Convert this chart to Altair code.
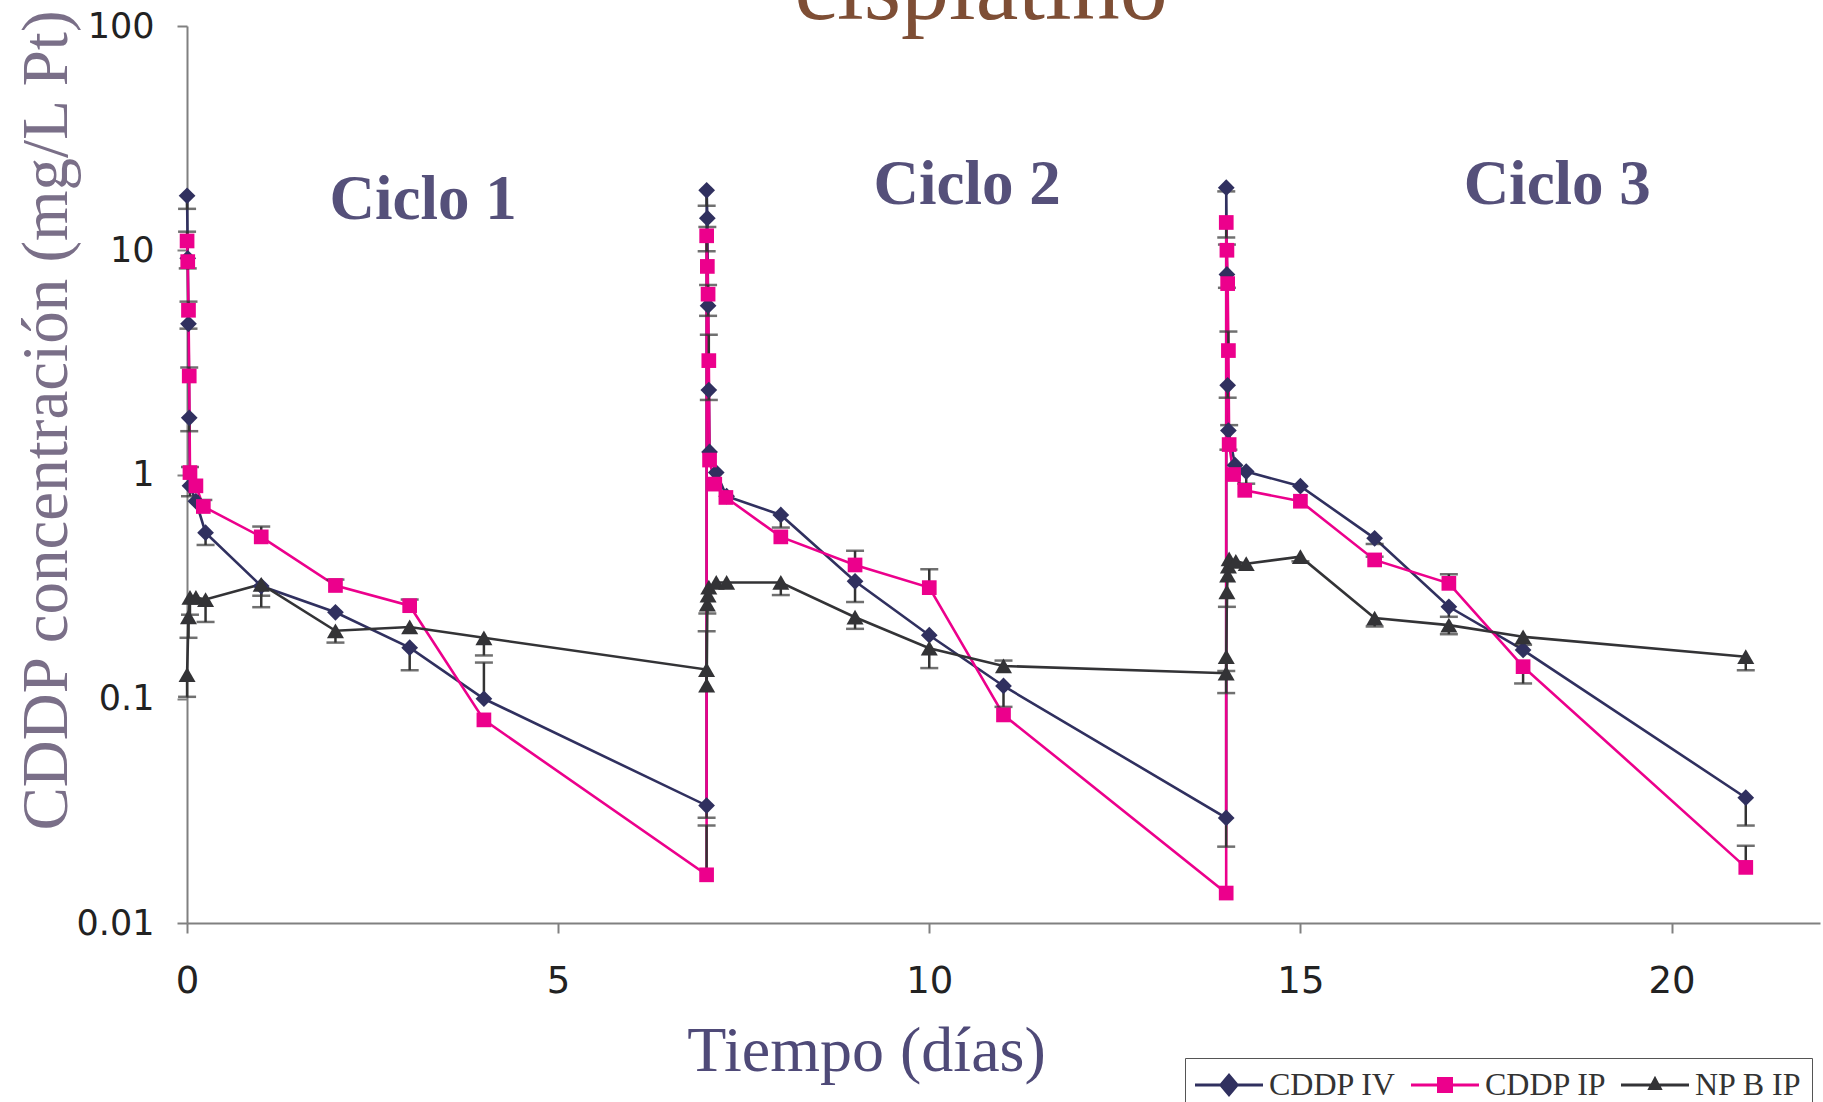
import altair as alt
import pandas as pd

# --- series ---------------------------------------------------------------
SERIES = ["CDDP IV", "CDDP IP", "NP B IP"]
COLORS = ["#30305F", "#EC008C", "#333336"]

# CDDP IV: time (days), concentration (mg/L Pt), error-bar end (None = no bar)
iv_t = [0.001, 0.01, 0.02, 0.03, 0.04, 0.12, 0.25, 1, 2, 3, 4, 7,
        7.001, 7.01, 7.02, 7.03, 7.04, 7.13, 7.27, 8, 9, 10, 11, 14,
        14.001, 14.01, 14.02, 14.03, 14.12, 14.27, 15, 16, 17, 18, 21]
iv_v = [17.5, 9.2, 4.7, 1.79, 0.89, 0.76, 0.55, 0.318, 0.243, 0.169, 0.100, 0.0334,
        18.5, 13.9, 5.66, 2.38, 1.26, 1.02, 0.80, 0.66, 0.334, 0.192, 0.114, 0.0294,
        19.0, 7.8, 2.5, 1.57, 1.10, 1.03, 0.887, 0.519, 0.257, 0.165, 0.0362]
iv_e = [15.3, None, 4.47, 1.56, 0.80, None, 0.485, 0.288, None, 0.134, 0.145, 0.0295,
        15.8, 12.7, 5.1, 2.15, None, None, None, 0.58, 0.27, None, 0.092, 0.0219,
        18.3, 6.8, 2.2, 1.29, None, 0.91, None, 0.49, 0.232, None, 0.0272]

# CDDP IP
ip_t = [0.001, 0.01, 0.02, 0.03, 0.04, 0.12, 0.22, 1, 2, 3, 4, 7,
        7.001, 7.01, 7.02, 7.03, 7.04, 7.11, 7.26, 8, 9, 10, 11, 14,
        14.001, 14.01, 14.02, 14.03, 14.04, 14.1, 14.25, 15, 16, 17, 18, 21]
ip_v = [11.0, 8.9, 5.4, 2.75, 1.02, 0.89, 0.72, 0.527, 0.32, 0.26, 0.0805, 0.0164,
        11.6, 8.47, 6.37, 3.22, 1.16, 0.906, 0.79, 0.527, 0.395, 0.313, 0.0847, 0.0136,
        13.3, 10.0, 7.1, 3.57, 1.36, 1.0, 0.85, 0.76, 0.416, 0.327, 0.139, 0.0177]
ip_e = [12.1, 8.3, 5.9, 3.0, 1.08, None, 0.77, 0.586, 0.34, 0.277, None, 0.0272,
        9.9, None, 7.0, 4.2, None, None, None, None, 0.457, 0.378, None, None,
        11.4, 10.6, None, 4.34, 1.66, None, None, None, 0.43, 0.359, 0.117, 0.0221]

# NP B IP
np_t = [0.001, 0.02, 0.04, 0.12, 0.25, 1, 2, 3, 4, 7,
        7.001, 7.01, 7.02, 7.03, 7.13, 7.27, 8, 9, 10, 11, 14,
        14.001, 14.01, 14.02, 14.03, 14.04, 14.13, 14.27, 15, 16, 17, 18, 21]
np_v = [0.128, 0.232, 0.283, 0.283, 0.277, 0.324, 0.201, 0.209, 0.187, 0.135,
        0.115, 0.264, 0.29, 0.315, 0.33, 0.33, 0.33, 0.231, 0.168, 0.14, 0.13,
        0.154, 0.30, 0.356, 0.39, 0.42, 0.41, 0.40, 0.43, 0.229, 0.213, 0.189, 0.154]
np_e = [0.102, 0.187, 0.237, None, 0.22, 0.256, 0.178, None, 0.156, None,
        0.2, 0.24, None, None, None, None, 0.29, 0.205, 0.137, 0.148, 0.106,
        0.133, 0.257, None, None, None, None, None, 0.41, 0.21, 0.194, 0.174, 0.134]

# cycle annotations
ciclos = ["Ciclo 1", "Ciclo 2", "Ciclo 3"]
ciclo_dia = [3.18, 10.51, 18.46]
ciclo_nivel = [13.8, 16.0, 16.0]

# --- tables ---------------------------------------------------------------
MARKER = {"CDDP IV": ("diamond", 280), "CDDP IP": ("square", 216), "NP B IP": ("triangle-up", 290)}
COLOR_OF = dict(zip(SERIES, COLORS))

rows = []
for name, ts, vs, es in [("CDDP IV", iv_t, iv_v, iv_e),
                         ("CDDP IP", ip_t, ip_v, ip_e),
                         ("NP B IP", np_t, np_v, np_e)]:
    for t, v, e in zip(ts, vs, es):
        rows.append({"serie": name, "t": t, "v": v, "err": e,
                     "col": COLOR_OF[name], "shp": MARKER[name][0], "sz": MARKER[name][1]})
df = pd.DataFrame(rows)
df_err = df.dropna(subset=["err"])
df_ciclo = pd.DataFrame({"ciclo": ciclos, "dia": ciclo_dia, "nivel": ciclo_nivel})

# legend glyphs: a line segment with the series marker in its middle
LEGEND_PATHS = [
    "M-1,-0.09H0.48L1,-0.7L1.52,-0.09H3V0.09H1.52L1,0.7L0.48,0.09H-1Z",
    "M-1,-0.09H0.53V-0.47H1.47V-0.09H3V0.09H1.47V0.47H0.53V0.09H-1Z",
    "M-1,-0.09H0.76L1,-0.55L1.24,-0.09H3V0.09H1.34L1.45,0.3H0.55L0.66,0.09H-1Z",
]

x_enc = alt.X("t:Q", scale=alt.Scale(domain=[0, 22], nice=False),
              axis=alt.Axis(values=[0, 5, 10, 15, 20], format="d", labelFlush=False,
                            title="Tiempo (días)",
                            titleX=679, titleY=147, titleAlign="center",
                            titleBaseline="alphabetic", titleFontSize=64,
                            titleFont="Liberation Serif", titleFontWeight="normal",
                            titleColor="#4F4A78", labelPadding=30, labelFontSize=37))
y_enc = alt.Y("v:Q", scale=alt.Scale(type="log", domain=[0.01, 100], nice=False),
              axis=alt.Axis(values=[0.01, 0.1, 1, 10, 100], format="~g", labelFlush=False,
                            title="CDDP concentración (mg/L Pt)",
                            titleX=-121, titleY=394, titleAngle=270, titleAlign="center",
                            titleBaseline="alphabetic", titleFontSize=65,
                            titleFont="Liberation Serif", titleFontWeight="normal",
                            titleColor="#7A6F88", labelPadding=23, labelFontSize=35))

lines = alt.Chart(df).mark_line(strokeWidth=2.6).encode(
    x=x_enc, y=y_enc,
    color=alt.Color("col:N", scale=None),
    detail="serie:N",
    order="t:Q",
)

err_rules = alt.Chart(df_err).mark_rule(color="#333333", strokeWidth=2.5).encode(
    x="t:Q", y="v:Q", y2="err:Q"
)
err_caps = alt.Chart(df_err).mark_tick(orient="horizontal", color="#333333",
                                       size=18, thickness=2.5).encode(
    x="t:Q", y="err:Q"
)

points = alt.Chart(df).mark_point(filled=True, opacity=1, strokeWidth=0).encode(
    x="t:Q", y="v:Q",
    color=alt.Color("col:N", scale=None),
    shape=alt.Shape("shp:N", scale=None),
    size=alt.Size("sz:Q", scale=None),
)

leg = alt.Legend(title=None, orient="none", legendX=998, legendY=1032,
                 direction="horizontal", symbolSize=1156, symbolStrokeWidth=0,
                 labelOffset=40, columnPadding=14, padding=10,
                 strokeColor="#555555", fillColor="white",
                 labelFont="Liberation Serif", labelFontSize=32, labelColor="#333333",
                 labelLimit=300)
legend_layer = alt.Chart(df).transform_filter("datum.t < 0").mark_point(
    filled=True, opacity=1).encode(
    x="t:Q", y="v:Q",
    color=alt.Color("serie:N", scale=alt.Scale(domain=SERIES, range=COLORS), legend=leg),
    shape=alt.Shape("serie:N", scale=alt.Scale(domain=SERIES, range=LEGEND_PATHS), legend=leg),
)

ciclo_text = alt.Chart(df_ciclo).mark_text(
    font="Liberation Serif", fontWeight="bold", fontSize=63, color="#55507A",
    baseline="alphabetic", align="center").encode(
    x="dia:Q", y="nivel:Q", text="ciclo:N")

heading = alt.Chart(pd.DataFrame({"txt": ["cisplatino"]})).mark_text(
    font="Liberation Serif", fontSize=96, color="#7E4E35",
    baseline="alphabetic", align="center").encode(
    x=alt.value(794), y=alt.value(-7), text="txt:N")

chart = alt.layer(lines, err_rules, err_caps, points, legend_layer, ciclo_text, heading).properties(
    width=1633, height=897,
    padding={"left": 187, "top": 26, "right": 3, "bottom": 179},
    autosize=alt.AutoSizeParams(type="none"),
).configure_view(stroke=None).configure_axis(
    grid=False, domainColor="#808080", domainWidth=2, tickColor="#808080", tickWidth=2,
    tickSize=10, labelFont="DejaVu Sans", labelColor="#222222",
)

chart.save("out.html", embed_options={"renderer": "svg", "actions": False})
